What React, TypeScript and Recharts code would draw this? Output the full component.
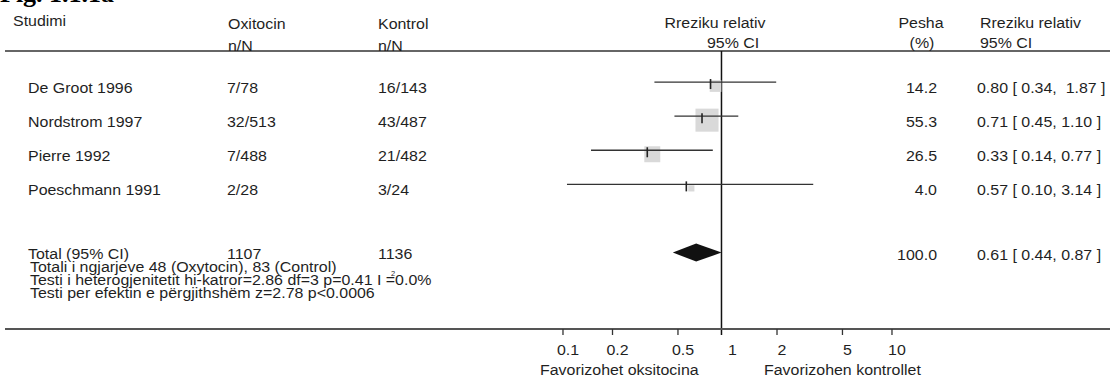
import React from 'react';
import { ScatterChart, Scatter, XAxis, YAxis, ReferenceLine } from 'recharts';

// ---------- data ----------
const studyNames = ['De Groot 1996', 'Nordstrom 1997', 'Pierre 1992', 'Poeschmann 1991'];
const oxitocinEvents = ['7/78', '32/513', '7/488', '2/28'];
const kontrolEvents = ['16/143', '43/487', '21/482', '3/24'];
const weights = [14.2, 55.3, 26.5, 4.0];
const relativeRisk = [0.8, 0.71, 0.33, 0.57];
const ciLower = [0.34, 0.45, 0.14, 0.1];
const ciUpper = [1.87, 1.1, 0.77, 3.14];
const ciLabels = ['0.80 [ 0.34,  1.87 ]', '0.71 [ 0.45, 1.10 ]', '0.33 [ 0.14, 0.77 ]', '0.57 [ 0.10, 3.14 ]'];

const totalLabel = 'Total (95% CI)';
const totalOxitocin = '1107';
const totalKontrol = '1136';
const totalWeight = '100.0';
const totalRR = 0.61;
const totalLower = 0.44;
const totalUpper = 0.87;
const totalCiLabel = '0.61 [ 0.44, 0.87 ]';
const totalRowIndex = 5;

const xTicks = [0.1, 0.2, 0.5, 1, 2, 5, 10];
const footerLines = [
  'Totali i ngjarjeve 48 (Oxytocin), 83 (Control)',
  'Testi i heterogjenitetit hi-katror=2.86 df=3 p=0.41 I =0.0%',
  'Testi per efektin e përgjithshëm z=2.78 p<0.0006',
];
const axisCaptions = ['Favorizohet oksitocina', 'Favorizohen kontrollet'];

// ---------- layout / style ----------
const W = 1110;
const H = 381;
const FONT = "'Liberation Sans', Arial, sans-serif";
const TXT = '#1f1f1f';
const X_DOMAIN = [3.834e-5, 200];
const Y_DOMAIN = [-0.91, 7.24];
const FS = 14.5;
const SX = 1.1;

const studyData = studyNames.map((name, i) => ({
  x: relativeRisk[i],
  y: i,
  name,
  ox: oxitocinEvents[i],
  ko: kontrolEvents[i],
  w: weights[i],
  ci: ciLabels[i],
}));

// text with a short-but-wide look like the source (14.5px stretched horizontally)
const T = ({ x, y, anchor, children }: any) => (
  <g transform={`translate(${x} ${y}) scale(${SX} 1)`}>
    <text
      x={0}
      y={0}
      textAnchor={anchor || 'start'}
      fontFamily={FONT}
      fontSize={FS}
      fill={TXT}
      style={{ whiteSpace: 'pre' }}
    >
      {children}
    </text>
  </g>
);

const StudySquare = (props: any) => {
  const { cx, cy, payload } = props;
  const s = 3.1 * Math.sqrt(payload.w);
  return <rect x={cx - s / 2} y={cy + 4 - s / 2} width={s} height={s} fill="#d9d9d9" />;
};

const StudyMark = (props: any) => {
  const { cx, cy, payload } = props;
  const base = cy + 10.5;
  return (
    <g>
      <line x1={cx - 5} x2={cx - 5} y1={cy - 3} y2={cy + 7} stroke="#222" strokeWidth={1.6} />
      <T x={28} y={base}>{payload.name}</T>
      <T x={227} y={base}>{payload.ox}</T>
      <T x={378} y={base}>{payload.ko}</T>
      <T x={937} y={base} anchor="end">{payload.w.toFixed(1)}</T>
      <T x={977} y={base}>{payload.ci}</T>
    </g>
  );
};

const TotalTexts = (props: any) => {
  const { cy } = props;
  const base = cy + 6;
  return (
    <g>
      <T x={28} y={base}>{totalLabel}</T>
      <T x={227} y={base}>{totalOxitocin}</T>
      <T x={378} y={base}>{totalKontrol}</T>
      <T x={937} y={cy + 7} anchor="end">{totalWeight}</T>
      <T x={977} y={cy + 7}>{totalCiLabel}</T>
    </g>
  );
};

const Empty = () => <g />;

const ciLine = (p: any) => {
  const pts = p.points || [];
  if (pts.length < 2) return <g />;
  return <line x1={pts[0].x} y1={pts[0].y} x2={pts[1].x} y2={pts[1].y} stroke="#333" strokeWidth={1.3} />;
};

const diamond = (p: any) => {
  const pts = p.points || [];
  if (pts.length < 3) return <g />;
  const [a, m, b] = pts;
  const h = 9;
  return (
    <polygon
      points={`${a.x},${a.y} ${m.x},${m.y - h} ${b.x},${b.y} ${m.x},${m.y + h}`}
      fill="#111"
    />
  );
};

const AxisTick = (props: any) => {
  const { x, y, payload } = props;
  const axisY = y - 8;
  return (
    <g>
      {payload.value !== 1 && (
        <line x1={x - 4} x2={x - 4} y1={axisY} y2={axisY + 6} stroke="#333" strokeWidth={1.3} />
      )}
      <T x={x + 1} y={axisY + 26} anchor="middle">{String(payload.value)}</T>
    </g>
  );
};

const NullLine = (p: any) => {
  const x = (p.x1 ?? 0) - 10;
  const yTop = Math.min(p.y1, p.y2);
  const yBot = Math.max(p.y1, p.y2);
  return <line x1={x} x2={x} y1={yTop} y2={yBot + 6} stroke="#111" strokeWidth={1.5} />;
};

export default function App() {
  return (
    <div style={{ position: 'absolute', left: 0, top: 0, width: W, height: H, background: '#fff' }}>
      <ScatterChart width={W} height={H} margin={{ top: 51, right: 0, bottom: 0, left: 5 }}>
        <XAxis
          type="number"
          dataKey="x"
          scale="log"
          domain={X_DOMAIN}
          allowDataOverflow
          ticks={xTicks}
          interval={0}
          height={52}
          tickLine={false}
          axisLine={{ stroke: '#555', strokeWidth: 2 }}
          tick={<AxisTick />}
        />
        <YAxis type="number" dataKey="y" domain={Y_DOMAIN} reversed hide allowDataOverflow />
        <ReferenceLine y={Y_DOMAIN[0]} stroke="#333" strokeWidth={1.5} ifOverflow="visible" />
        <ReferenceLine x={1} ifOverflow="visible" shape={NullLine} />
        <Scatter data={studyData} shape={StudySquare} isAnimationActive={false} />
        {studyNames.map((n, i) => (
          <Scatter
            key={n}
            data={[
              { x: ciLower[i], y: i },
              { x: ciUpper[i], y: i },
            ]}
            line={ciLine}
            shape={Empty}
            isAnimationActive={false}
          />
        ))}
        <Scatter data={studyData} shape={StudyMark} isAnimationActive={false} />
        <Scatter
          data={[
            { x: totalLower, y: totalRowIndex },
            { x: totalRR, y: totalRowIndex },
            { x: totalUpper, y: totalRowIndex },
          ]}
          line={diamond}
          shape={Empty}
          isAnimationActive={false}
        />
        <Scatter data={[{ x: totalRR, y: totalRowIndex }]} shape={TotalTexts} isAnimationActive={false} />
      </ScatterChart>
      <svg
        width={W}
        height={H}
        style={{ position: 'absolute', left: 0, top: 0, pointerEvents: 'none' }}
      >
        <text x={0} y={2} fontFamily="'Liberation Serif', serif" fontWeight="bold" fontSize={26} fill="#000">
          Fig. 1.1.1a
        </text>
        <T x={13} y={26}>Studimi</T>
        <T x={228} y={29}>Oxitocin</T>
        <T x={228} y={51}>n/N</T>
        <T x={378} y={29}>Kontrol</T>
        <T x={378} y={51}>n/N</T>
        <T x={715} y={28} anchor="middle">Rreziku relativ</T>
        <T x={707} y={48}>95% CI</T>
        <T x={921} y={28} anchor="middle">Pesha</T>
        <T x={922} y={48} anchor="middle">(%)</T>
        <T x={980} y={28}>Rreziku relativ</T>
        <T x={980} y={48}>95% CI</T>
        {footerLines.map((t, i) => (
          <T key={i} x={30} y={272 + i * 13}>{t}</T>
        ))}
        <text x={391} y={275.5} fontFamily={FONT} fontSize={7.5} fill={TXT}>2</text>
        <T x={540} y={375}>{axisCaptions[0]}</T>
        <T x={764} y={375}>{axisCaptions[1]}</T>
      </svg>
    </div>
  );
}
